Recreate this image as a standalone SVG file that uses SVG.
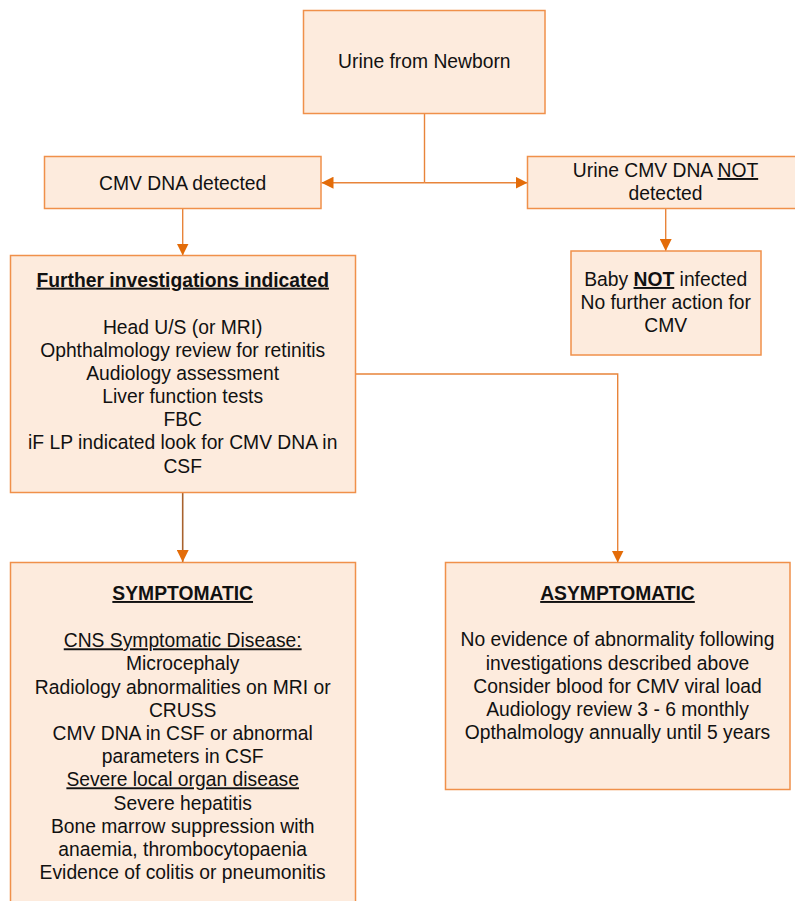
<svg xmlns="http://www.w3.org/2000/svg" width="795" height="901" viewBox="0 0 795 901">
  <style>
    .box { fill: #FDEBDD; stroke: #F0904A; stroke-width: 1.5; }
    .t { font-family: "Liberation Sans", Arial, sans-serif; font-size: 19.3px; fill: #111; text-anchor: middle; }
    .b { font-weight: bold; }
    .u { text-decoration: underline; }
    .wire { fill: none; stroke: #E8843A; stroke-width: 1.4; }
    .wire-dark { fill: none; stroke: #A8622E; stroke-width: 1.6; }
  </style>
  <defs>
    <marker id="head" viewBox="0 0 12 12" refX="12" refY="6" markerWidth="12" markerHeight="12" markerUnits="userSpaceOnUse" orient="auto">
      <path d="M0,0 L12,6 L0,12 Z" fill="#E36C09"/>
    </marker>
  </defs>
  <rect width="795" height="901" fill="#ffffff"/>

  <g id="connectors">
    <path class="wire" d="M424.5,113.5 V182.7"/>
    <path class="wire" d="M424.5,182.7 H321.5" marker-end="url(#head)"/>
    <path class="wire" d="M424.5,182.7 H527.5" marker-end="url(#head)"/>
    <path class="wire" d="M182.7,208.5 V255.5" marker-end="url(#head)"/>
    <path class="wire" d="M665.7,208.5 V251" marker-end="url(#head)"/>
    <path class="wire-dark" d="M182.7,492.7 V562" marker-end="url(#head)"/>
    <path class="wire" d="M355.7,374 H617.7 V562.5" marker-end="url(#head)"/>
  </g>

  <g id="urine-newborn">
    <rect class="box" x="303.5" y="10.5" width="241.5" height="103"/>
    <text class="t" x="424.3" y="68">Urine from Newborn</text>
  </g>

  <g id="cmv-detected">
    <rect class="box" x="44.5" y="156.5" width="276.5" height="52"/>
    <text class="t" x="182.7" y="189.5">CMV DNA detected</text>
  </g>

  <g id="cmv-not-detected">
    <rect class="box" x="527.5" y="156.5" width="276" height="52"/>
    <text class="t" x="665.5" y="177">Urine CMV DNA <tspan class="u">NOT</tspan></text>
    <text class="t" x="665.5" y="199.5">detected</text>
  </g>

  <g id="not-infected">
    <rect class="box" x="571" y="251" width="190" height="104"/>
    <text class="t" x="665.7" y="286">Baby <tspan class="b u">NOT</tspan> infected</text>
    <text class="t" x="665.7" y="308.5">No further action for</text>
    <text class="t" x="665.7" y="331.7">CMV</text>
  </g>

  <g id="further-investigations">
    <rect class="box" x="10.5" y="255.5" width="345" height="237"/>
    <text class="t b u" x="182.7" y="286.7">Further investigations indicated</text>
    <text class="t" x="182.7" y="334">Head U/S (or MRI)</text>
    <text class="t" x="182.7" y="357">Ophthalmology review for retinitis</text>
    <text class="t" x="182.7" y="380">Audiology assessment</text>
    <text class="t" x="182.7" y="403">Liver function tests</text>
    <text class="t" x="182.7" y="426">FBC</text>
    <text class="t" x="182.7" y="449">iF LP indicated look for CMV DNA in</text>
    <text class="t" x="182.7" y="472.5">CSF</text>
  </g>

  <g id="symptomatic">
    <rect class="box" x="10.5" y="562.5" width="345" height="345"/>
    <text class="t b u" x="182.7" y="600">SYMPTOMATIC</text>
    <text class="t u" x="182.7" y="647.3">CNS Symptomatic Disease:</text>
    <text class="t" x="182.7" y="670.3">Microcephaly</text>
    <text class="t" x="182.7" y="693.5">Radiology abnormalities on MRI or</text>
    <text class="t" x="182.7" y="716.7">CRUSS</text>
    <text class="t" x="182.7" y="739.9">CMV DNA in CSF or abnormal</text>
    <text class="t" x="182.7" y="763.1">parameters in CSF</text>
    <text class="t u" x="182.7" y="786.3">Severe local organ disease</text>
    <text class="t" x="182.7" y="809.5">Severe hepatitis</text>
    <text class="t" x="182.7" y="832.7">Bone marrow suppression with</text>
    <text class="t" x="182.7" y="855.9">anaemia, thrombocytopaenia</text>
    <text class="t" x="182.7" y="879.1">Evidence of colitis or pneumonitis</text>
  </g>

  <g id="asymptomatic">
    <rect class="box" x="445.5" y="562.5" width="344.5" height="227"/>
    <text class="t b u" x="617.5" y="600">ASYMPTOMATIC</text>
    <text class="t" x="617.5" y="646.3">No evidence of abnormality following</text>
    <text class="t" x="617.5" y="669.5">investigations described above</text>
    <text class="t" x="617.5" y="692.7">Consider blood for CMV viral load</text>
    <text class="t" x="617.5" y="715.9">Audiology review 3 - 6 monthly</text>
    <text class="t" x="617.5" y="739.1">Opthalmology annually until 5 years</text>
  </g>
</svg>
